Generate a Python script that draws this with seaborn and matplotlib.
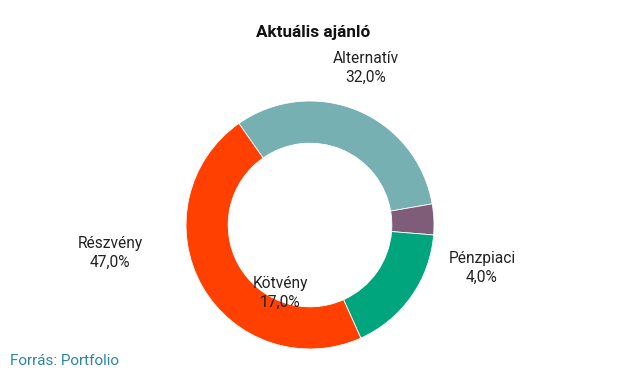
import matplotlib
matplotlib.use("Agg")
import matplotlib.pyplot as plt
import seaborn as sns
import numpy as np

# ─── Data ─────────────────────────────────────────────────────────────────────
categories = ["Alternatív", "Pénzpiaci", "Kötvény", "Részvény"]
shares     = [32.0, 4.0, 17.0, 47.0]
colors     = ["#76b0b2", "#7f5c78", "#00a57e", "#ff4000"]

# label anchor points (pixels from donut centre, y up)
label_pos = [(56, 157), (172, -43), (-30, -68), (-200, -28)]

sns.set_theme(style="white")
plt.rcParams["font.family"] = ["Roboto", "DejaVu Sans"]

W, H = 626, 378
fig = plt.figure(figsize=(W / 100, H / 100), dpi=100)

# donut centre (310, 225) px, outer radius ~124 px
R = 124
cx, cy = 310, 225
ax = fig.add_axes([(cx - R) / W, (H - cy - R) / H, 2 * R / W, 2 * R / H])
ax.pie(shares, colors=colors, startangle=125, counterclock=False,
       radius=1.0, wedgeprops=dict(width=0.34, edgecolor="white", linewidth=0.6))
ax.set_xlim(-1, 1)
ax.set_ylim(-1, 1)
ax.set_aspect("equal")
ax.axis("off")

for name, val, (dx, dy) in zip(categories, shares, label_pos):
    fx = (cx + dx) / W
    fy = (H - cy + dy) / H
    fig.text(fx, fy, f"{name}\n{val:.1f}%".replace(".", ","), ha="center", va="center",
             fontsize=11.2, color="#222222", linespacing=1.3)

fig.text(313 / W, 1 - 32 / H, "Aktuális ajánló", ha="center", va="center",
         fontsize=12.3, fontweight="bold", color="#111111")
fig.text(10 / W, 1 - 361 / H, "Forrás: Portfolio", ha="left", va="center",
         fontsize=11, color="#2a87a6")

fig.savefig("out.png", dpi=100)
